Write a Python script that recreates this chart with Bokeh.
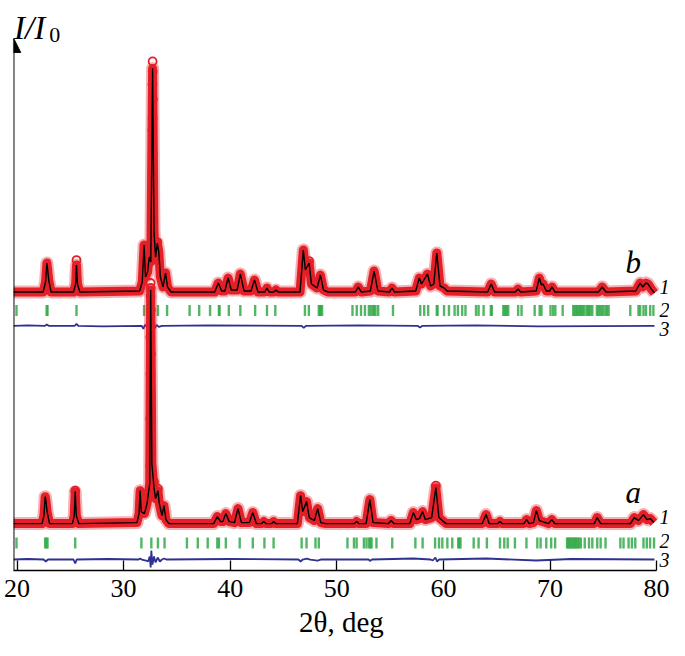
import numpy as np
from bokeh.plotting import figure
from bokeh.models import Arrow, NormalHead, FixedTicker, Range1d
from bokeh.core.properties import value
from bokeh.embed import file_html
from bokeh.resources import INLINE

# ---------------- data (2theta in deg, intensity in arbitrary units) ----------------
x_ticks = [20, 30, 40, 50, 60, 70, 80]

# pattern b: calculated profile vertices
calc_b_x = [19.67, 22.45, 22.68, 22.8, 22.88, 22.97, 23.2, 25.3, 25.5, 25.58, 25.67, 25.9,
            31.5, 31.75, 31.92, 32.05, 32.25, 32.4, 32.55, 32.72, 32.85, 33.0, 33.16, 33.3, 33.45,
            33.7, 33.93, 34.12, 34.45, 38.55, 38.88, 39.2, 39.5, 39.8, 40.1, 40.65, 40.95, 41.3,
            41.95, 42.28, 42.6, 43.25, 43.45, 43.65, 44.1, 44.3, 44.5, 46.55, 46.86, 47.05, 47.4,
            47.62, 48.15, 48.46, 48.75, 49.15, 51.75, 52.0, 52.3, 53.15, 53.5, 53.85, 54.95, 55.18,
            55.4, 57.4, 57.74, 57.95, 58.5, 58.8, 59.1, 59.38, 59.68, 60.06, 60.35, 64.15, 64.48,
            64.8, 66.75, 67.0, 67.25, 68.7, 69.0, 69.2, 69.35, 69.65, 69.95, 70.2, 70.45, 74.55,
            74.9, 75.25, 78.05, 78.46, 78.7, 79.0, 79.2, 79.5, 79.8]
calc_b_i = [0, 0, 10, 29, 22, 12, 0, 0, 8, 27, 8, 0,
            1, 10, 47, 15, 20, 35, 30, 224, 60, 35, 49, 40, 15,
            5, 19, 5, 0, 0, 9, 1, 1, 14, 2, 2, 18, 1,
            1, 12, 0, 0, 4, 0, 0, 2, 0, 0, 42, 22, 29,
            8, 4, 17, 2, 0, 0, 5, 0, 1, 21, 1, 0, 4, 0,
            1, 14, 8, 18, 6, 8, 39, 6, 4, 1, 0, 8, 0,
            0, 3, 0, 1, 14, 7, 8, 1, 1, 5, 0, 0, 5, 0,
            1, 9, 5, 9, 8, 3, -1]
# pattern b: observed points shown as open circles
obs_b_x = [32.72, 32.73, 32.71, 32.74, 32.72, 32.70, 32.74, 32.71, 32.73, 32.69, 25.58, 33.16, 47.4, 32.42]
obs_b_i = [231, 221, 208, 193, 174, 162, 138, 120, 96, 72, 32, 50, 31, 37]
# pattern b: Bragg positions
bragg_b = [19.95, 22.78, 22.86, 25.58, 31.92, 32.69, 33.22, 34.08, 36.19, 37.09, 38.11, 38.94, 39.0,
           39.87, 40.95, 42.34, 43.45, 44.23, 47.01, 47.38, 48.31, 48.41, 48.51, 48.62, 51.47, 51.87,
           52.27, 52.64, 53.01, 53.19, 53.41, 53.5, 53.63, 53.88, 55.27, 57.83, 58.2, 58.57, 59.38,
           59.45, 60.06, 60.52, 61.05, 61.36, 61.76, 62.07, 63.06, 63.3, 63.77, 64.45, 64.54, 65.62,
           65.73, 65.84, 65.95, 66.08, 67.01, 67.33, 68.56, 69.03, 69.2, 70.05, 70.3, 70.5, 71.19,
           72.18, 72.3, 72.43, 72.55, 72.67, 72.8, 72.92, 73.05, 73.17, 73.41, 73.55, 73.66, 73.8,
           73.97, 74.4, 74.55, 74.7, 74.85, 75.0, 75.2, 75.35, 75.5, 77.53, 78.3, 78.46, 78.77,
           79.0, 79.4, 79.7]
# pattern b: difference curve
diff_b_x = [19.67, 21.0, 22.6, 22.8, 23.0, 25.4, 25.58, 25.75, 28.0, 31.7, 31.85, 32.0, 32.3, 32.5,
            32.65, 32.75, 32.9, 33.1, 33.3, 33.6, 38.0, 46.7, 46.9, 47.1, 52.0, 57.6, 57.8, 58.0,
            63.0, 69.0, 79.8]
diff_b_i = [0, 0.5, 0, 1.5, 0, 0, 2, 0, -0.5, 0, -3, 1, -2, -6, 2, 4, -3, 1, -1, 0, 0.5, 0, -2, 0,
            0.5, 0, -1.5, 0, 0.5, -0.5, 0]

# pattern a: calculated profile vertices
calc_a_x = [19.67, 22.35, 22.53, 22.64, 22.72, 22.82, 23.05, 25.2, 25.37, 25.46, 25.56, 25.8,
            31.25, 31.45, 31.55, 31.65, 31.95, 32.2, 32.45, 32.54, 32.65, 32.85, 33.0, 33.22, 33.35,
            33.6, 33.78, 33.97, 34.25, 38.45, 38.79, 39.1, 39.3, 39.59, 39.9, 40.4, 40.73, 41.05,
            41.8, 42.12, 42.45, 42.95, 43.14, 43.35, 43.9, 44.07, 44.25, 46.3, 46.6, 46.8, 47.16,
            47.42, 47.9, 48.2, 48.5, 48.95, 51.65, 51.86, 52.05, 52.75, 53.1, 53.4, 54.85, 55.1,
            55.35, 56.85, 57.18, 57.45, 57.75, 58.05, 58.3, 58.9, 59.29, 59.58, 59.9, 60.25, 63.65,
            64.0, 64.3, 65.1, 65.3, 65.5, 67.55, 67.8, 68.05, 68.45, 68.72, 69.0, 69.85, 70.17,
            70.45, 74.15, 74.43, 74.75, 77.55, 77.9, 78.3, 78.77, 79.1, 79.4, 79.75]
calc_a_i = [0, 0, 8, 27, 22, 12, 0, 0, 8, 32, 8, 0,
            1, 10, 33, 12, 10, 20, 40, 234, 60, 36, 25, 33, 20,
            8, 18, 4, 0, 0, 7, 2, 2, 10, 2, 1, 15, 1,
            1, 11, 0, 0, 2, 0, 0, 2, 0, 0, 28, 12, 22,
            6, 3, 15, 1, 0, 0, 2, 0, 0, 24, 1, 0, 3, 0,
            0, 11, 4, 5, 12, 4, 6, 36, 6, 3, 0, 0, 9, 0,
            0, 2, 0, 0, 4, 0, 1, 13, 3, 0, 4, 0, 0, 6,
            0, 0, 6, 3, 9, 4, 5, 1]
obs_a_x = [32.53, 32.55, 32.52, 32.56, 32.53, 32.51, 32.56, 32.52, 32.55, 32.50, 32.57, 32.49,
           32.85, 25.46, 59.29, 33.22]
obs_a_i = [241, 236, 228, 214, 200, 187, 170, 150, 128, 105, 80, 58, 42, 33, 38, 35]
bragg_a = [19.95, 22.64, 22.75, 22.86, 25.46, 31.67, 32.6, 33.22, 33.84, 35.94, 36.96, 37.89, 38.79,
           38.94, 39.59, 40.89, 42.12, 43.21, 44.07, 46.7, 47.16, 48.0, 48.31, 51.0, 51.61, 51.86,
           52.54, 52.79, 53.04, 53.15, 53.26, 53.72, 55.2, 57.37, 58.05, 59.22, 59.59, 59.9, 60.37,
           60.83, 61.39, 61.5, 61.6, 62.84, 63.3, 64.08, 65.31, 65.71, 66.03, 66.71, 67.79, 68.81,
           69.12, 69.65, 70.11, 70.48, 71.6, 71.7, 71.81, 71.92, 72.02, 72.15, 72.27, 72.38, 72.48,
           72.6, 72.74, 72.89, 73.26, 73.66, 73.97, 74.43, 74.75, 75.21, 76.6, 76.9, 77.37, 77.68,
           78.0, 78.77, 79.08, 79.39, 79.76]
diff_a_x = [19.67, 21.0, 22.5, 22.7, 22.9, 25.3, 25.46, 25.6, 28.5, 31.4, 31.55, 31.7, 32.1, 32.3,
            32.45, 32.54, 32.6, 32.7, 32.85, 33.0, 33.2, 33.4, 33.6, 33.8, 34.0, 40.0, 46.4, 46.6,
            46.8, 47.2, 47.5, 48.2, 48.5, 53.0, 53.1, 53.3, 57.2, 58.8, 59.0, 59.25, 59.4, 59.6,
            64.0, 68.7, 72.0, 79.8]
diff_a_i = [0, 0.5, 0, -2, 0, 0, -4, 0, 0.5, 0, 1, 0, -1, -2,
            3, -8, 9, -5, 3, -3, 2, -2, 0, 1, 0, 0.5, 0, -2,
            0, 1, 0, -1, 0, 0, -1.5, 0, 1, 0, -1, 2, -2, 0,
            1, -1, 0.5, 0]

# ---------------- layout constants ----------------
BASE_A, BASE_B = 47, 279
TICK_A, TICK_B = (22, 33), (255, 266)
DIFF_A, DIFF_B = 11, 245
X0, X1 = 19.67, 81.21

RED = "#e41f27"
GREEN = "#34a94a"
BLUE = "#2e3192"

p = figure(width=669, height=640, x_range=Range1d(X0, X1), y_range=Range1d(0, 571),
           output_backend="svg", toolbar_location=None,
           min_border_left=13, min_border_right=0, min_border_top=0, min_border_bottom=69)
p.yaxis.visible = False
p.grid.visible = False
p.outline_line_color = None
p.background_fill_color = "white"

ax = p.xaxis[0]
ax.ticker = FixedTicker(ticks=x_ticks)
ax.bounds = (X0, 80)
ax.major_tick_in = 10
ax.major_tick_out = 0
ax.minor_tick_line_color = None
ax.axis_line_width = 1.3
ax.major_tick_line_width = 1.3
ax.axis_line_color = "black"
ax.major_tick_line_color = "black"
ax.major_label_text_font = "Liberation Serif"
ax.major_label_text_font_size = "26px"
ax.major_label_text_color = "black"
ax.major_label_standoff = 9
ax.axis_label = "2θ, deg"
ax.axis_label_text_font = "Liberation Serif"
ax.axis_label_text_font_style = "normal"
ax.axis_label_text_font_size = "29px"
ax.axis_label_text_color = "black"
ax.axis_label_standoff = 6


def draw(cx, ci, ox, oi, bragg, dx, di, base, tick, diff):
    cx = np.array(cx); ci = np.array(ci, dtype=float)
    p.line(cx, ci + base, line_color=RED, line_width=13, line_alpha=0.35, line_join="round")
    p.line(cx, ci + base, line_color=RED, line_width=9, line_alpha=1.0, line_join="round")
    p.scatter(np.array(ox), np.array(oi, dtype=float) + base, marker="circle", size=8,
              line_color=RED, line_width=1.8, fill_color=None)
    p.line(cx, ci + base, line_color="black", line_width=1.4)
    p.segment(x0=bragg, y0=[tick[0]] * len(bragg), x1=bragg, y1=[tick[1]] * len(bragg),
              line_color=GREEN, line_width=2.4, line_alpha=0.85)
    p.line(np.array(dx), np.array(di, dtype=float) + diff, line_color=BLUE, line_width=1.8)


draw(calc_b_x, calc_b_i, obs_b_x, obs_b_i, bragg_b, diff_b_x, diff_b_i, BASE_B, TICK_B, DIFF_B)
draw(calc_a_x, calc_a_i, obs_a_x, obs_a_i, bragg_a, diff_a_x, diff_a_i, BASE_A, TICK_A, DIFF_A)

# y axis arrow
p.add_layout(Arrow(end=NormalHead(size=14, fill_color="black", line_color="black", line_width=1),
                   x_start=X0 + 0.02, y_start=0, x_end=X0 + 0.02, y_end=533,
                   line_color="black", line_width=1.5))

serif = value("Liberation Serif")
# axis title I/I0
p.text(x=[X0 + 0.05], y=[543], text=["I/I"], text_font=serif, text_font_style="italic",
       text_font_size="33px", text_align="left", text_baseline="alphabetic", text_color="black")
p.text(x=[X0 + 3.35], y=[536], text=["0"], text_font=serif, text_font_style="normal",
       text_font_size="22px", text_align="left", text_baseline="alphabetic", text_color="black")

# pattern letters
p.text(x=[77.8, 77.8], y=[309, 78], text=["b", "a"], text_font=serif, text_font_style="italic",
       text_font_size="31px", text_align="center", text_baseline="alphabetic", text_color="black")
# curve numbers
num_y = [284, 261, 242, 54, 30, 11]
num_t = ["1", "2", "3", "1", "2", "3"]
p.text(x=[80.75] * 6, y=num_y, text=num_t, text_font=serif, text_font_style="italic",
       text_font_size="20px", text_align="center", text_baseline="middle", text_color="black")

open("out.html", "w").write(file_html(p, INLINE))
